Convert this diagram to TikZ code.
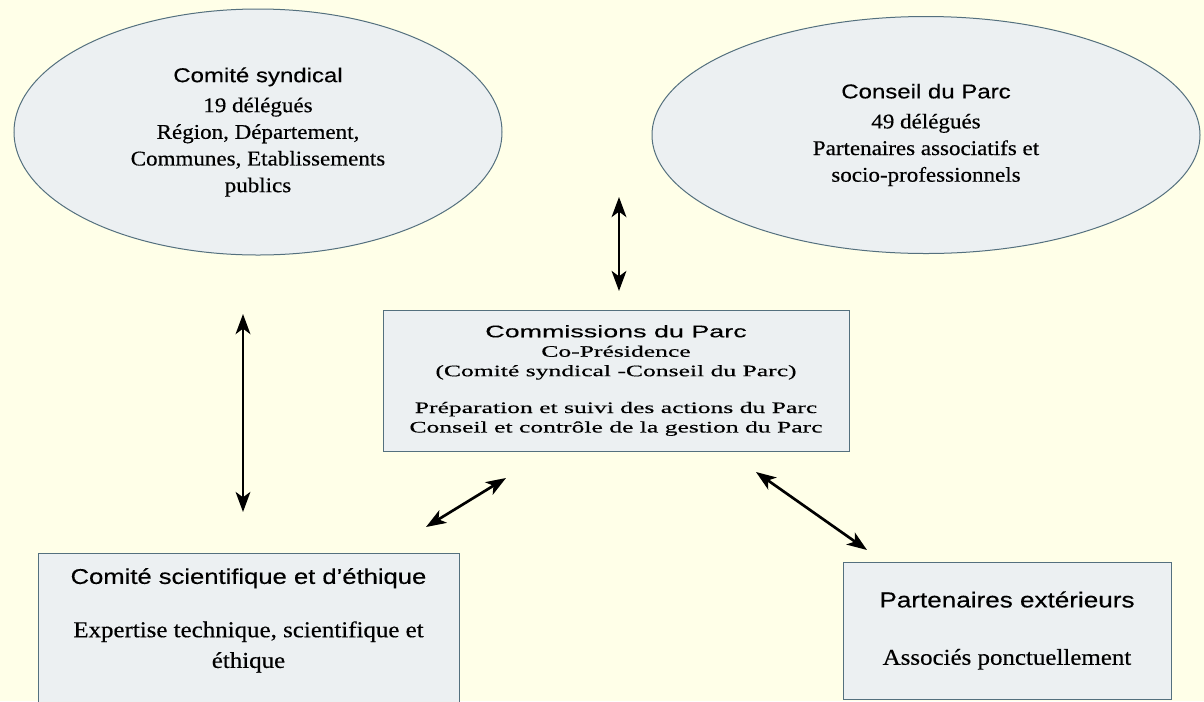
\documentclass[tikz,border=0pt]{standalone}
\usepackage{fontspec}
\usepackage{xcolor}
\usepackage{tikz}
\usetikzlibrary{arrows.meta,shapes.geometric}
\setmainfont{Liberation Serif}[FakeStretch=1.1,FakeBold=0.4]
\newfontfamily\headfont{Liberation Sans}[FakeStretch=1.2,FakeBold=0.3]
\newfontfamily\wideserif{Liberation Serif}[FakeStretch=1.6,FakeBold=0.4]
\newfontfamily\widehead{Liberation Sans}[FakeStretch=1.6,FakeBold=0.3]
\definecolor{bgyellow}{RGB}{255,255,232}
\definecolor{boxfill}{RGB}{236,240,242}
\definecolor{boxline}{RGB}{84,112,126}

\begin{document}
\begin{tikzpicture}[x=0.75pt,y=-0.75pt,<->,>={Stealth[length=15pt,width=11pt,inset=4pt]},line width=2pt,
  blob/.style={shape=ellipse,draw=boxline,fill=boxfill,line width=0.75pt,inner sep=0pt,align=center,font=\fontsize{15.7}{20}\selectfont},
  panel/.style={shape=rectangle,draw=boxline,fill=boxfill,line width=0.75pt,align=center}]
\fill[bgyellow] (0,0) rectangle (1204,701);
\useasboundingbox (0,0) rectangle (1204,701);
\node[blob,minimum width=366pt,minimum height=184.5pt] (syndic) at (258,132) {{\headfont\fontsize{15}{20}\selectfont Comité syndical}\\[2.5pt] 19 délégués\\ Région, Département,\\ Communes, Etablissements\\ publics};
\node[blob,minimum width=411pt,minimum height=177.75pt] (conseil) at (926,135) {{\headfont\fontsize{15}{20}\selectfont Conseil du Parc}\\[2.5pt] 49 délégués\\ Partenaires associatifs et\\ socio-professionnels};
\node[panel,minimum width=349.5pt,minimum height=105.75pt,font=\wideserif\fontsize{12}{14.6}\selectfont] (commis) at (616,380.5) {{\widehead\fontsize{12.6}{14.6}\selectfont Commissions du Parc}\\ Co-Présidence\\ (Comité syndical -Conseil du Parc)\\[13pt] Préparation et suivi des actions du Parc\\ Conseil et contrôle de la gestion du Parc};
\node[panel,anchor=north,minimum width=315.75pt,inner ysep=11pt,font=\fontsize{17}{23}\selectfont] (sci) at (248.5,553) {{\headfont\fontsize{16}{23}\selectfont Comité scientifique et d’éthique}\\[17pt] Expertise technique, scientifique et\\ éthique\\[30pt]\mbox{}};
\node[panel,minimum width=246pt,minimum height=102.75pt,font=\fontsize{17}{23}\selectfont] (ext) at (1007,630.5) {{\headfont\fontsize{16.3}{23}\selectfont Partenaires extérieurs}\\[20pt] Associés ponctuellement};
\coordinate (mid-top) at (619,197);
\coordinate (mid-bot) at (619,291);
\coordinate (left-top) at (243,314);
\coordinate (left-bot) at (243,512);
\coordinate (sci-end) at (426,527);
\coordinate (com-left) at (506,478);
\coordinate (com-right) at (756,472);
\coordinate (ext-end) at (867,550);
\path (mid-top) edge (mid-bot);
\path (left-top) edge (left-bot);
\path (sci-end) edge (com-left);
\path (com-right) edge (ext-end);
\end{tikzpicture}
\end{document}
